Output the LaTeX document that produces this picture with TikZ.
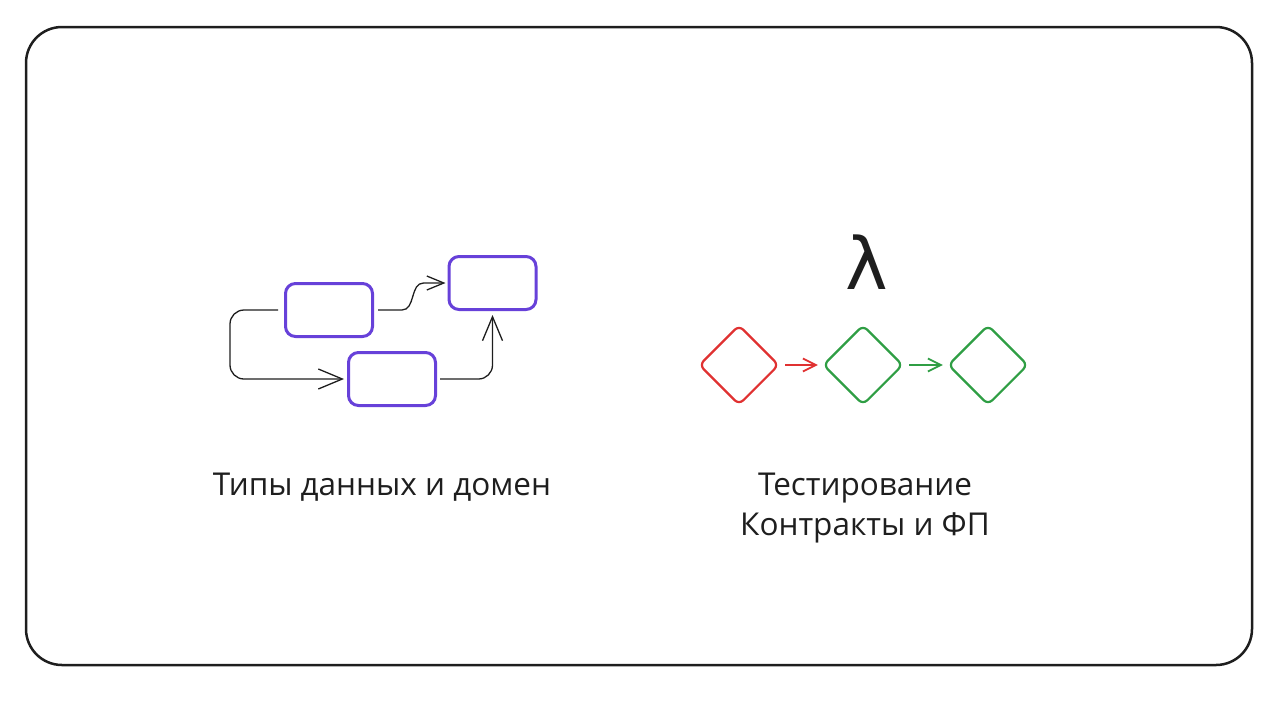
\documentclass[tikz,border=0pt]{standalone}
\usepackage{fontspec}
\setmainfont{Open Sans}
\newfontfamily\lamfont{DejaVu Sans}
\usetikzlibrary{arrows.meta,shapes.geometric}
\definecolor{ink}{HTML}{1E1E1E}
\definecolor{boxviolet}{HTML}{6741D9}
\definecolor{stepred}{HTML}{E03131}
\definecolor{stepgreen}{HTML}{2F9E44}
\begin{document}
\begin{tikzpicture}[x=1pt, y=-1pt,
    typebox/.style={draw=boxviolet, line width=3pt, rounded corners=10pt,
        minimum width=87pt, minimum height=53pt, inner sep=0pt},
    flowarr/.style={draw=ink, line width=1.3pt, rounded corners=14pt,
        -{Straight Barb[length=24pt, width=20pt, line width=1.3pt]}},
    stepdia/.style={diamond, draw, line width=2.2pt, rounded corners=6pt,
        minimum width=80pt, minimum height=80pt, inner sep=0pt},
    steparr/.style={line width=1.8pt, shorten <=5pt, shorten >=4pt,
        -{Straight Barb[length=13pt, width=13pt, line width=1.8pt]}},
    caption/.style={font=\fontsize{31.5}{40}\selectfont, text=ink, align=center}]
    \useasboundingbox (0, 0) rectangle (1280, 721);
    \draw[ink, line width=2.5pt, rounded corners=36pt](26, 27) rectangle (1252, 665);

    % types and domain
        \node[typebox] (boxA) at (329, 310){};
        \node[typebox] (boxB) at (492.5, 283){};
        \node[typebox] (boxC) at (392, 379){};
            \draw[flowarr] ([xshift=-6pt]boxA.west) -- ++(-48, 0) |- ([xshift=-3pt]boxC.west);
            \draw[flowarr, rounded corners=0pt,
                -{Straight Barb[length=17pt, width=14pt, line width=1.3pt]}]
                ([xshift=4pt]boxA.east) -- ++(24, 0)
                to[out=0, in=180] ([xshift=-24pt]boxB.west) -- ([xshift=-2pt]boxB.west);
            \draw[flowarr] ([xshift=3pt]boxC.east) -| ([yshift=-4pt]boxB.south);
        \node[caption, anchor=base] (typesText) at (382, 495){Типы данных и домен};

    % testing, contracts and FP
        \node[text=ink, font=\lamfont\fontsize{72}{72}\selectfont] (lambda) at (867, 262){λ};
        \node[stepdia, draw=stepred] (diaA) at (739, 365){};
        \node[stepdia, draw=stepgreen] (diaB) at (863, 365){};
        \node[stepdia, draw=stepgreen] (diaC) at (988, 365){};
            \draw[steparr, stepred] (diaA) -- (diaB);
            \draw[steparr, stepgreen] (diaB) -- (diaC);
        \node[caption, anchor=north] (testText) at (865, 469){Тестирование\\Контракты и ФП};
\end{tikzpicture}
\end{document}
